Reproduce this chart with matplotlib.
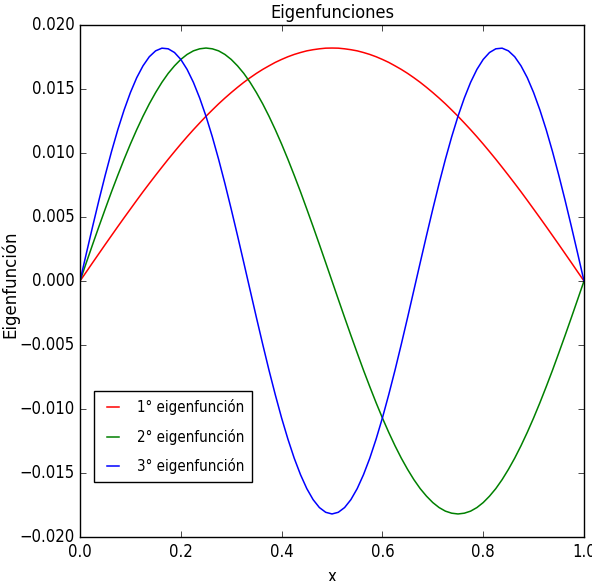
import numpy as np
import matplotlib
matplotlib.use("Agg")
import matplotlib.pyplot as plt
from matplotlib import font_manager

plt.style.use('classic')

# pick a condensed font if available (reference text looks horizontally narrow)
names = {f.name: f for f in font_manager.fontManager.ttflist}
condensed = [f for f in font_manager.fontManager.ttflist
             if f.name == 'DejaVu Sans' and f.stretch in ('condensed', 'semi-condensed', 600, 500)]
if condensed:
    plt.rcParams['font.family'] = ['DejaVu Sans']
    plt.rcParams['font.stretch'] = 'condensed'
elif 'Liberation Sans Narrow' in names:
    plt.rcParams['font.family'] = ['Liberation Sans Narrow', 'DejaVu Sans']
else:
    plt.rcParams['font.family'] = ['DejaVu Sans']

x = np.linspace(0.0, 1.0, 81)

red = [0, 0.00071, 0.00143, 0.00214, 0.00285, 0.00355, 0.00425, 0.00494, 0.00562, 0.00630,
       0.00697, 0.00762, 0.00826, 0.00889, 0.00951, 0.01011, 0.01070, 0.01127, 0.01182, 0.01235,
       0.01287, 0.01336, 0.01384, 0.01429, 0.01472, 0.01513, 0.01552, 0.01588, 0.01622, 0.01653,
       0.01681, 0.01708, 0.01731, 0.01752, 0.01770, 0.01785, 0.01798, 0.01807, 0.01814, 0.01819,
       0.01820,
       0.01819, 0.01814, 0.01807, 0.01798, 0.01785, 0.01770, 0.01752, 0.01731, 0.01708, 0.01681,
       0.01653, 0.01622, 0.01588, 0.01552, 0.01513, 0.01472, 0.01429, 0.01384, 0.01336, 0.01287,
       0.01235, 0.01182, 0.01127, 0.01070, 0.01011, 0.00951, 0.00889, 0.00826, 0.00762, 0.00697,
       0.00630, 0.00562, 0.00494, 0.00425, 0.00355, 0.00285, 0.00214, 0.00143, 0.00071, 0]

green = [0, 0.00143, 0.00285, 0.00425, 0.00562, 0.00697, 0.00826, 0.00951, 0.01070, 0.01182,
         0.01287, 0.01384, 0.01472, 0.01552, 0.01622, 0.01681, 0.01731, 0.01770, 0.01798, 0.01814,
         0.01820,
         0.01814, 0.01798, 0.01770, 0.01731, 0.01681, 0.01622, 0.01552, 0.01472, 0.01384, 0.01287,
         0.01182, 0.01070, 0.00951, 0.00826, 0.00697, 0.00562, 0.00425, 0.00285, 0.00143, 0,
         -0.00143, -0.00285, -0.00425, -0.00562, -0.00697, -0.00826, -0.00951, -0.01070, -0.01182, -0.01287,
         -0.01384, -0.01472, -0.01552, -0.01622, -0.01681, -0.01731, -0.01770, -0.01798, -0.01814, -0.01820,
         -0.01814, -0.01798, -0.01770, -0.01731, -0.01681, -0.01622, -0.01552, -0.01472, -0.01384, -0.01287,
         -0.01182, -0.01070, -0.00951, -0.00826, -0.00697, -0.00562, -0.00425, -0.00285, -0.00143, 0]

blue = [0, 0.00214, 0.00425, 0.00630, 0.00826, 0.01011, 0.01182, 0.01336, 0.01472, 0.01588,
        0.01681, 0.01752, 0.01798, 0.01819, 0.01814, 0.01785, 0.01731, 0.01653, 0.01552, 0.01429,
        0.01287, 0.01127, 0.00951, 0.00762, 0.00562, 0.00355, 0.00143, -0.00071, -0.00285, -0.00494,
        -0.00697, -0.00889, -0.01070, -0.01235, -0.01384, -0.01513, -0.01622, -0.01708, -0.01770, -0.01807,
        -0.01820,
        -0.01807, -0.01770, -0.01708, -0.01622, -0.01513, -0.01384, -0.01235, -0.01070, -0.00889, -0.00697,
        -0.00494, -0.00285, -0.00071, 0.00143, 0.00355, 0.00562, 0.00762, 0.00951, 0.01127, 0.01287,
        0.01429, 0.01552, 0.01653, 0.01731, 0.01785, 0.01814, 0.01819, 0.01798, 0.01752, 0.01681,
        0.01588, 0.01472, 0.01336, 0.01182, 0.01011, 0.00826, 0.00630, 0.00425, 0.00214, 0]

labels = ['1° eigenfunción', '2° eigenfunción', '3° eigenfunción']
colors = ['#ff0000', '#008000', '#0000ff']

fig = plt.figure(figsize=(5.92, 5.81), dpi=100, facecolor='white')
ax = fig.add_axes([80/592, 44/581, 504/592, 512/581])
ax.set_facecolor('white')

for ys, c, lab in zip([red, green, blue], colors, labels):
    ax.plot(x, ys, color=c, lw=1.1, label=lab)

ax.set_xlim(0, 1)
ax.set_ylim(-0.02, 0.02)
ax.set_xticks([0.0, 0.2, 0.4, 0.6, 0.8, 1.0])
ax.set_yticks(np.arange(-0.020, 0.0201, 0.005))
ax.tick_params(labelsize=12, direction='in', top=True, right=True)
ax.set_title('Eigenfunciones', fontsize=13)
ax.set_xlabel('x', fontsize=12)
ax.set_ylabel('Eigenfunción', fontsize=12, fontstretch='normal')
ax.yaxis.set_label_coords(-0.12, 0.494)

leg = ax.legend(loc='lower left', bbox_to_anchor=(0.028, 0.107), borderaxespad=0,
                fontsize=10.8, frameon=True, fancybox=False,
                handlelength=1.4, handletextpad=0.93, borderpad=0.53, labelspacing=0.9)
leg.get_frame().set_edgecolor('black')

fig.savefig('out.png', dpi=100, facecolor='white')
